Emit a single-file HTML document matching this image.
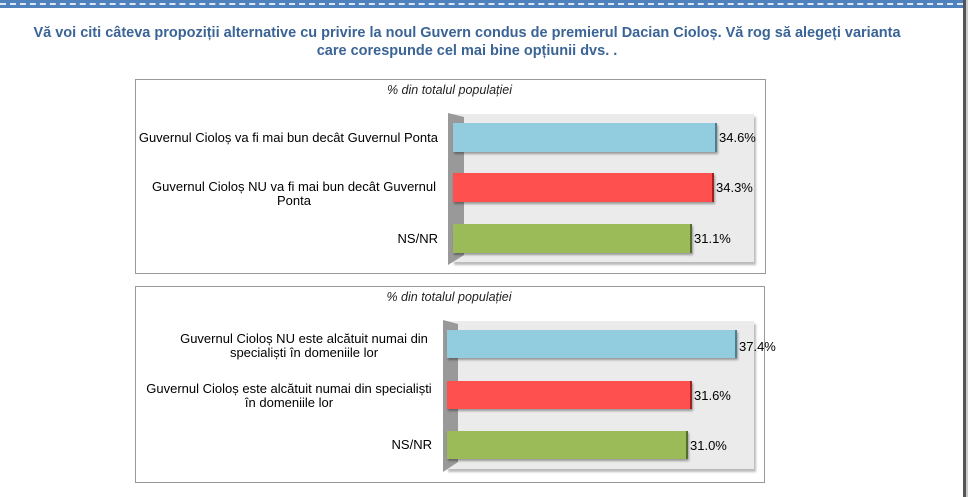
<!DOCTYPE html>
<html><head><meta charset="utf-8"><style>
body{margin:0;width:970px;height:497px;background:#fff;position:relative;overflow:hidden;font-family:"Liberation Sans",sans-serif}
.a{position:absolute}
.top{left:0;top:0;width:963px;height:8px;background:#4f81bd}
.dash{left:0;top:3px;width:963px;height:0;border-top:2px dashed #dde8f5}
.rl{left:963px;top:0;width:3px;height:497px;background:#555}
.rs{left:966px;top:0;width:2px;height:497px;background:#ccc}
.title{left:0;width:934px;top:24px;text-align:center;color:#3a6496;font-weight:bold;font-size:14.5px;line-height:18px}
.box{border:1px solid #999;background:#fff}
.cap{font-style:italic;font-size:12.5px;color:#222;text-align:center}
.lbl{font-size:13px;color:#000;text-align:right;line-height:14px}
.val{font-size:13px;color:#000}
.bar{box-shadow:1px 2px 2px rgba(0,0,0,.35)}
</style></head><body>
<div class="a top"></div><div class="a dash"></div><div class="a rl"></div><div class="a rs"></div>
<div class="a title">Vă voi citi câteva propoziții alternative cu privire la noul Guvern condus de premierul Dacian Cioloș. Vă rog să alegeți varianta<br>care corespunde cel mai bine opțiunii dvs. .</div>

<div class="a box" style="left:135px;top:79px;width:629px;height:193px"></div>
<div class="a cap" style="left:135px;top:83px;width:629px">% din totalul populației</div>
<div class="a" style="left:452px;top:114px;width:302px;height:148px;background:#ebebeb;box-shadow:2px 3px 2px #bbb"></div>
<div class="a" style="left:448px;top:113px;width:16px;height:152px;background:#999;clip-path:polygon(0 0,100% 4px,100% 142px,0 100%)"></div>
<div class="a bar" style="left:453px;top:123px;width:262px;height:29px;background:#92cddf;border-right:2px solid #4a7f94"></div>
<div class="a bar" style="left:453px;top:173px;width:259px;height:29px;background:#ff5050;border-right:2px solid #a02020"></div>
<div class="a bar" style="left:453px;top:224px;width:237px;height:29px;background:#9bbb59;border-right:2px solid #556b30"></div>
<div class="a val" style="left:719px;top:130px">34.6%</div>
<div class="a val" style="left:716px;top:180px">34.3%</div>
<div class="a val" style="left:694px;top:231px">31.1%</div>
<div class="a lbl" style="left:130px;top:131px;width:308px">Guvernul Cioloș va fi mai bun decât Guvernul Ponta</div>
<div class="a lbl" style="left:130px;top:180px;width:308px;text-align:center;padding-left:20px;box-sizing:border-box">Guvernul Cioloș NU va fi mai bun decât Guvernul<br>Ponta</div>
<div class="a lbl" style="left:130px;top:232px;width:308px">NS/NR</div>

<div class="a box" style="left:135px;top:286px;width:628px;height:195px"></div>
<div class="a cap" style="left:135px;top:290px;width:628px">% din totalul populației</div>
<div class="a" style="left:446px;top:321px;width:308px;height:148px;background:#ebebeb;box-shadow:2px 3px 2px #bbb"></div>
<div class="a" style="left:443px;top:320px;width:15px;height:152px;background:#999;clip-path:polygon(0 0,100% 4px,100% 142px,0 100%)"></div>
<div class="a bar" style="left:447px;top:330px;width:288px;height:28px;background:#92cddf;border-right:2px solid #4a7f94"></div>
<div class="a bar" style="left:447px;top:381px;width:243px;height:28px;background:#ff5050;border-right:2px solid #a02020"></div>
<div class="a bar" style="left:447px;top:431px;width:239px;height:28px;background:#9bbb59;border-right:2px solid #556b30"></div>
<div class="a val" style="left:739px;top:339px">37.4%</div>
<div class="a val" style="left:694px;top:388px">31.6%</div>
<div class="a val" style="left:690px;top:438px">31.0%</div>
<div class="a lbl" style="left:130px;top:332px;width:308px;text-align:center;padding-left:40px;box-sizing:border-box">Guvernul Cioloș NU este alcătuit numai din<br>specialiști în domeniile lor</div>
<div class="a lbl" style="left:130px;top:382px;width:308px;text-align:center;padding-left:10px;box-sizing:border-box">Guvernul Cioloș este alcătuit numai din specialiști<br>în domeniile lor</div>
<div class="a lbl" style="left:130px;top:438px;width:302px">NS/NR</div>
</body></html>
